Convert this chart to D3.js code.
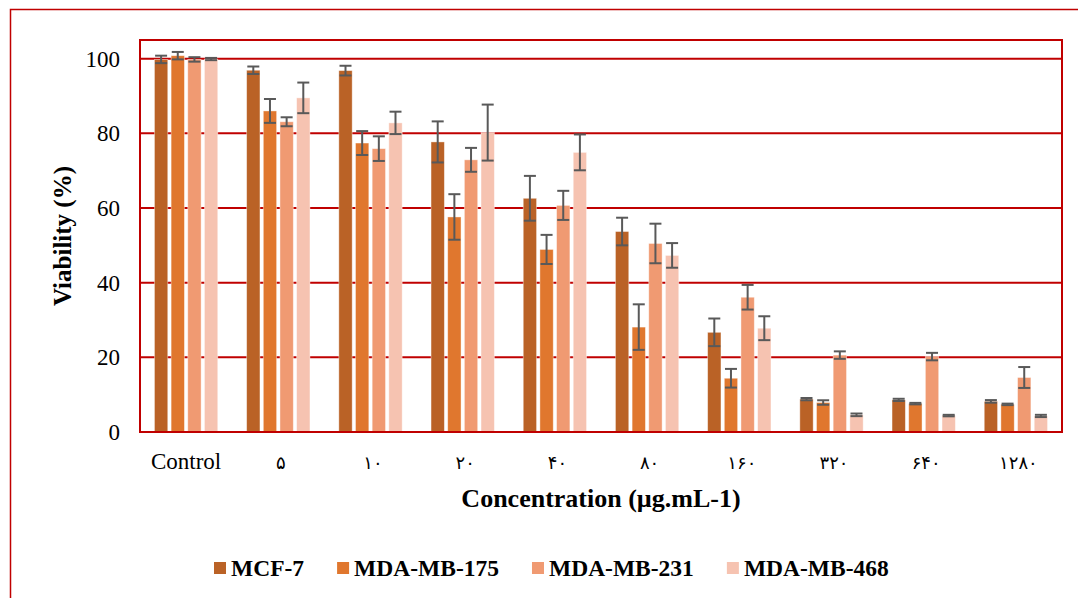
<!DOCTYPE html>
<html>
<head>
<meta charset="utf-8">
<script src="https://cdn.jsdelivr.net/npm/d3@7"></script>
<style>
  body { margin: 0; background: #fff; }
  svg { display: block; }
  .serif { font-family: "Liberation Serif", "DejaVu Serif", serif; }
</style>
</head>
<body>
<svg id="chart" width="1078" height="598"></svg>
<script>
// data
const categories = ["Control", "۵", "۱۰", "۲۰", "۴۰", "۸۰", "۱۶۰", "۳۲۰", "۶۴۰", "۱۲۸۰"];
const series = ["MCF-7", "MDA-MB-175", "MDA-MB-231", "MDA-MB-468"];

const mcf7 = [99.8, 96.9, 96.8, 77.7, 62.6, 53.7, 26.7, 8.8, 8.6, 8.2];
const mcf7_err = [1.0, 1.0, 1.3, 5.5, 6.0, 3.7, 3.7, 0.3, 0.3, 0.35];
const mda175 = [100.8, 86.0, 77.4, 57.6, 48.9, 28.1, 14.4, 7.9, 7.6, 7.4];
const mda175_err = [1.0, 3.2, 3.2, 6.1, 3.9, 6.1, 2.5, 0.6, 0.2, 0.2];
const mda231 = [99.8, 83.1, 75.9, 72.9, 60.7, 50.5, 36.1, 20.6, 20.2, 14.6];
const mda231_err = [0.6, 1.2, 3.3, 3.2, 3.9, 5.3, 3.3, 1.0, 1.0, 2.8];
const mda468 = [99.9, 89.5, 82.8, 80.2, 74.9, 47.3, 27.8, 4.6, 4.4, 4.3];
const mda468_err = [0.3, 4.1, 3.0, 7.5, 4.8, 3.3, 3.2, 0.35, 0.2, 0.3];

const y_ticks = [0, 20, 40, 60, 80, 100];

const values = [mcf7, mda175, mda231, mda468];
const errors = [mcf7_err, mda175_err, mda231_err, mda468_err];
const colors = ["#ba6226", "#e0772e", "#f09a72", "#f6c3b1"];

const red = "#c00000";

const svg = d3.select("#chart");

// outer chart frame, right and bottom run off the page
svg.append("rect")
  .attr("x", 10.5)
  .attr("y", 9.5)
  .attr("width", 1100)
  .attr("height", 620)
  .attr("fill", "none")
  .attr("stroke", red)
  .attr("stroke-width", 1.5);

const plot = { left: 140, top: 40, right: 1062, bottom: 432 };

const x0 = d3.scaleBand()
  .domain(categories)
  .range([plot.left, plot.right])
  .paddingInner(0.277)
  .paddingOuter(0.1385);

const x1 = d3.scaleBand()
  .domain(series)
  .range([0, x0.bandwidth()])
  .paddingInner(0.2)
  .paddingOuter(0.1);

const y = d3.scaleLinear()
  .domain([0, 105])
  .range([plot.bottom, plot.top]);

// gridlines behind the bars
svg.append("g")
  .selectAll("line")
  .data(y_ticks)
  .join("line")
  .attr("x1", plot.left)
  .attr("x2", plot.right)
  .attr("y1", d => y(d))
  .attr("y2", d => y(d))
  .attr("stroke", red)
  .attr("stroke-width", 2);

// flatten into one row per bar
const rows = [];
categories.forEach((c, i) => {
  series.forEach((s, j) => {
    rows.push({ c, s, j, v: values[j][i], e: errors[j][i] });
  });
});

svg.append("g")
  .selectAll("rect")
  .data(rows)
  .join("rect")
  .attr("x", d => x0(d.c) + x1(d.s))
  .attr("y", d => y(d.v))
  .attr("width", x1.bandwidth())
  .attr("height", d => y(0) - y(d.v))
  .attr("fill", d => colors[d.j])
  .attr("stroke", "#fff")
  .attr("stroke-opacity", 0.5)
  .attr("stroke-width", 0.8);

// error bars
const cap = 6;
const err = svg.append("g")
  .attr("stroke", "#595959")
  .attr("stroke-width", 2)
  .selectAll("g")
  .data(rows)
  .join("g")
  .attr("transform", d => `translate(${x0(d.c) + x1(d.s) + x1.bandwidth() / 2},0)`);

err.append("line")
  .attr("y1", d => y(d.v - d.e))
  .attr("y2", d => y(d.v + d.e));
err.append("line")
  .attr("x1", -cap).attr("x2", cap)
  .attr("y1", d => y(d.v + d.e))
  .attr("y2", d => y(d.v + d.e));
err.append("line")
  .attr("x1", -cap).attr("x2", cap)
  .attr("y1", d => y(d.v - d.e))
  .attr("y2", d => y(d.v - d.e));

// plot border
svg.append("rect")
  .attr("x", plot.left)
  .attr("y", plot.top)
  .attr("width", plot.right - plot.left)
  .attr("height", plot.bottom - plot.top)
  .attr("fill", "none")
  .attr("stroke", red)
  .attr("stroke-width", 2);

// y axis labels
const yAxis = svg.append("g")
  .attr("transform", `translate(${plot.left},0)`)
  .call(d3.axisLeft(y).tickValues(y_ticks).tickSize(0).tickPadding(20));
yAxis.attr("font-family", null);
yAxis.select(".domain").remove();
yAxis.selectAll("text")
  .attr("class", "serif")
  .attr("font-size", 23)
  .attr("fill", "#000");

// x axis labels
const xAxis = svg.append("g")
  .attr("transform", `translate(0,${plot.bottom})`)
  .call(d3.axisBottom(x0).tickSize(0).tickPadding(0));
xAxis.attr("font-family", null);
xAxis.select(".domain").remove();
xAxis.selectAll("text")
  .attr("dy", null)
  .attr("y", 37)
  .attr("fill", "#000")
  .each(function(d) {
    const t = d3.select(this);
    if (d === "Control") {
      t.attr("class", "serif").attr("font-size", 23);
    } else {
      // persian digits, spread out like the original
      t.style("font-family", "'DejaVu Sans', sans-serif")
        .attr("font-size", 18)
        .style("letter-spacing", "5px")
        .attr("dx", 2.5);
    }
  });

// axis titles
svg.append("text")
  .attr("class", "serif")
  .attr("transform", `translate(71,${(plot.top + plot.bottom) / 2}) rotate(-90)`)
  .attr("text-anchor", "middle")
  .attr("font-weight", "bold")
  .attr("font-size", 25)
  .text("Viability (%)");

svg.append("text")
  .attr("class", "serif")
  .attr("x", (plot.left + plot.right) / 2)
  .attr("y", 507)
  .attr("text-anchor", "middle")
  .attr("font-weight", "bold")
  .attr("font-size", 26)
  .text("Concentration (µg.mL-1)");

// legend, items laid out by text width
const legend = svg.append("g");
let lx = 214;
series.forEach((s, j) => {
  legend.append("rect")
    .attr("x", lx)
    .attr("y", 562)
    .attr("width", 12)
    .attr("height", 12)
    .attr("fill", colors[j]);
  const t = legend.append("text")
    .attr("class", "serif")
    .attr("x", lx + 17)
    .attr("y", 576)
    .attr("font-weight", "bold")
    .attr("font-size", 23.5)
    .text(s);
  lx += 17 + t.node().getComputedTextLength() + 33;
});
</script>
</body>
</html>
